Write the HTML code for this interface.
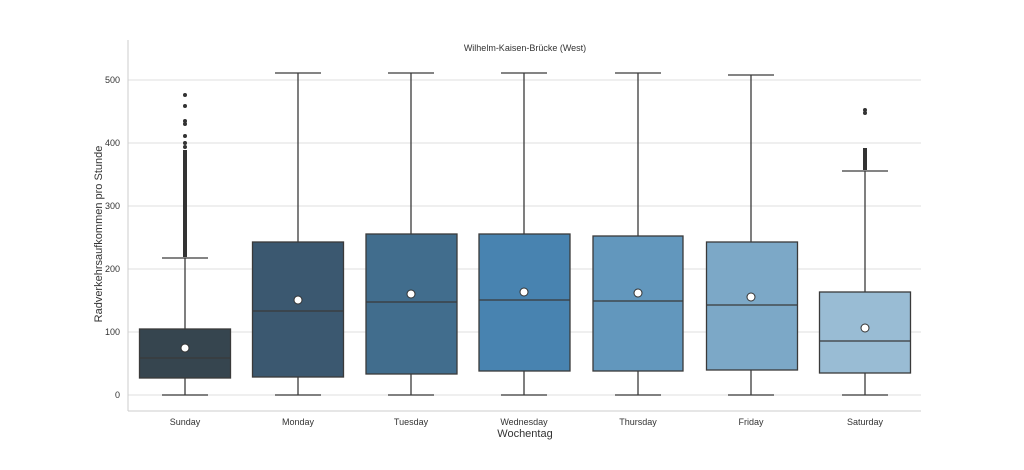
<!DOCTYPE html>
<html><head><meta charset="utf-8"><style>body{margin:0;background:#fff}svg{display:block}text{font-family:"Liberation Sans",sans-serif;fill:#333}</style></head><body>
<svg width="1024" height="470" viewBox="0 0 1024 470">
<g stroke="#e5e5e5" stroke-width="1.2">
<line x1="128" x2="921" y1="395" y2="395"/><line x1="128" x2="921" y1="332" y2="332"/><line x1="128" x2="921" y1="269" y2="269"/><line x1="128" x2="921" y1="206" y2="206"/><line x1="128" x2="921" y1="143" y2="143"/><line x1="128" x2="921" y1="80" y2="80"/>
</g>
<g stroke="#ccc" stroke-width="1"><line x1="128" x2="128" y1="40" y2="411"/><line x1="128" x2="921" y1="411" y2="411"/></g>
<g font-size="9" text-anchor="end"><text x="120" y="398">0</text><text x="120" y="335">100</text><text x="120" y="272">200</text><text x="120" y="209">300</text><text x="120" y="146">400</text><text x="120" y="83">500</text></g>
<g font-size="9" text-anchor="middle"><text x="185" y="425">Sunday</text><text x="298" y="425">Monday</text><text x="411" y="425">Tuesday</text><text x="524" y="425">Wednesday</text><text x="638" y="425">Thursday</text><text x="751" y="425">Friday</text><text x="865" y="425">Saturday</text></g>
<text x="525" y="437" font-size="11" text-anchor="middle">Wochentag</text>
<text transform="translate(102,234) rotate(-90)" font-size="11" text-anchor="middle">Radverkehrsaufkommen pro Stunde</text>
<text x="525" y="51" font-size="9" text-anchor="middle">Wilhelm-Kaisen-Brücke (West)</text>
<g stroke="#3a3a3a" stroke-width="1.3">
<line x1="185" x2="185" y1="258" y2="329"/><line x1="185" x2="185" y1="378" y2="395"/><line x1="162" x2="208" y1="258" y2="258"/><line x1="162" x2="208" y1="395" y2="395"/>
<rect x="139.5" y="329" width="91" height="49" fill="#36454f"/><line x1="139.5" x2="230.5" y1="358" y2="358"/>
<line x1="298" x2="298" y1="73" y2="242"/><line x1="298" x2="298" y1="377" y2="395"/><line x1="275" x2="321" y1="73" y2="73"/><line x1="275" x2="321" y1="395" y2="395"/>
<rect x="252.5" y="242" width="91" height="135" fill="#3b5870"/><line x1="252.5" x2="343.5" y1="311" y2="311"/>
<line x1="411" x2="411" y1="73" y2="234"/><line x1="411" x2="411" y1="374" y2="395"/><line x1="388" x2="434" y1="73" y2="73"/><line x1="388" x2="434" y1="395" y2="395"/>
<rect x="366" y="234" width="91" height="140" fill="#416d8d"/><line x1="366" x2="457" y1="302" y2="302"/>
<line x1="524" x2="524" y1="73" y2="234"/><line x1="524" x2="524" y1="371" y2="395"/><line x1="501" x2="547" y1="73" y2="73"/><line x1="501" x2="547" y1="395" y2="395"/>
<rect x="479" y="234" width="91" height="137" fill="#4883b0"/><line x1="479" x2="570" y1="300" y2="300"/>
<line x1="638" x2="638" y1="73" y2="236"/><line x1="638" x2="638" y1="371" y2="395"/><line x1="615" x2="661" y1="73" y2="73"/><line x1="615" x2="661" y1="395" y2="395"/>
<rect x="593" y="236" width="90" height="135" fill="#6297bd"/><line x1="593" x2="683" y1="301" y2="301"/>
<line x1="751" x2="751" y1="75" y2="242"/><line x1="751" x2="751" y1="370" y2="395"/><line x1="728" x2="774" y1="75" y2="75"/><line x1="728" x2="774" y1="395" y2="395"/>
<rect x="706.5" y="242" width="91" height="128" fill="#7ca8c7"/><line x1="706.5" x2="797.5" y1="305" y2="305"/>
<line x1="865" x2="865" y1="171" y2="292"/><line x1="865" x2="865" y1="373" y2="395"/><line x1="842" x2="888" y1="171" y2="171"/><line x1="842" x2="888" y1="395" y2="395"/>
<rect x="819.5" y="292" width="91" height="81" fill="#99bcd4"/><line x1="819.5" x2="910.5" y1="341" y2="341"/>
</g>
<g fill="#333">
<rect x="183" y="150" width="4" height="107"/>
<circle cx="185" cy="95" r="2"/><circle cx="185" cy="106" r="2"/><circle cx="185" cy="121" r="2"/><circle cx="185" cy="124" r="2"/><circle cx="185" cy="136" r="2"/><circle cx="185" cy="143" r="2"/><circle cx="185" cy="147" r="2"/>
<circle cx="865" cy="110" r="2"/><circle cx="865" cy="113" r="2"/><rect x="863" y="148" width="4" height="22"/>
</g>
<g fill="#fff" stroke="#333" stroke-width="1"><circle cx="185" cy="348" r="4"/><circle cx="298" cy="300" r="4"/><circle cx="411" cy="294" r="4"/><circle cx="524" cy="292" r="4"/><circle cx="638" cy="293" r="4"/><circle cx="751" cy="297" r="4"/><circle cx="865" cy="328" r="4"/></g>
</svg>
</body></html>
